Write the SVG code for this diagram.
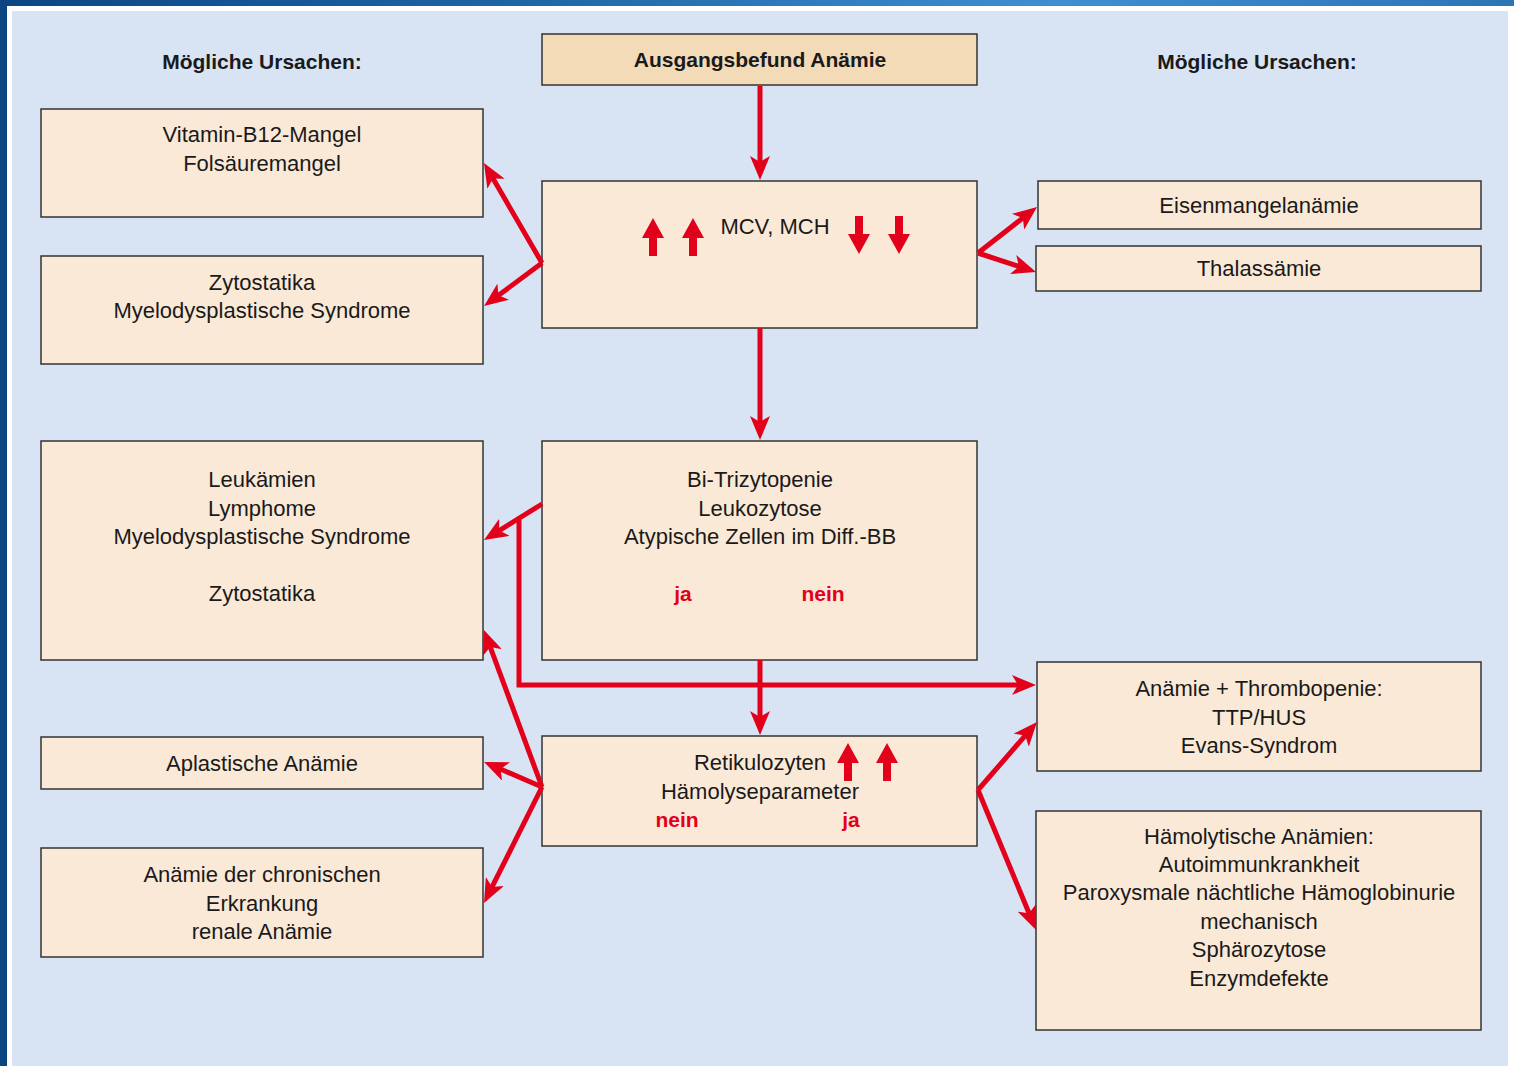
<svg xmlns="http://www.w3.org/2000/svg" width="1514" height="1066" viewBox="0 0 1514 1066">
<defs>
<linearGradient id="topbar" x1="0" y1="0" x2="1" y2="0">
<stop offset="0" stop-color="#0b4683"/>
<stop offset="0.35" stop-color="#1f66a6"/>
<stop offset="0.7" stop-color="#3f8fd0"/>
<stop offset="1" stop-color="#2d74b5"/>
</linearGradient>
<marker id="ah" viewBox="0 0 24 20" refX="8" refY="10" markerWidth="24" markerHeight="20" markerUnits="userSpaceOnUse" orient="auto">
<path d="M0,0 L24,10 L0,20 L6,10 z" fill="#e2001a"/>
</marker>
<path id="up" d="M-4,0 h8 v-18 h7 l-11,-20 l-11,20 h7 z"/>
<style>
.box{fill:#fae9d7;stroke:#333;stroke-width:1.5}
.top{fill:#f4dbb8;stroke:#333;stroke-width:1.5}
.t{font-family:"Liberation Sans",Arial,sans-serif;font-size:22px;fill:#1a1a1a;text-anchor:middle}
.h{font-family:"Liberation Sans",Arial,sans-serif;font-size:21px;font-weight:bold;fill:#1a1a1a;text-anchor:middle}
.r{font-family:"Liberation Sans",Arial,sans-serif;font-size:21px;font-weight:bold;fill:#e2001a;text-anchor:middle}
.c{fill:none;stroke:#e2001a;stroke-width:5;marker-end:url(#ah)}
.sa{fill:#e2001a}
</style>
</defs>
<rect x="0" y="0" width="1514" height="1066" fill="#ffffff"/>
<rect x="0" y="0" width="1514" height="6" fill="url(#topbar)"/>
<rect x="0" y="0" width="7" height="1066" fill="#0b4683"/>
<rect x="12" y="11" width="1496" height="1055" fill="#d8e4f3"/>

<text class="h" x="262" y="69">Mögliche Ursachen:</text>
<text class="h" x="1257" y="69">Mögliche Ursachen:</text>

<g id="n-start"><rect class="top" x="542" y="34" width="435" height="51"/><text class="h" x="760" y="67">Ausgangsbefund Anämie</text></g>

<g id="n-mcv"><rect class="box" x="542" y="181" width="435" height="147"/>
<text class="t" x="775" y="234">MCV, MCH</text>
<use href="#up" class="sa" x="653" y="256"/>
<use href="#up" class="sa" x="693" y="256"/>
<use href="#up" class="sa" transform="translate(859,216) scale(1,-1)"/>
<use href="#up" class="sa" transform="translate(899,216) scale(1,-1)"/>
</g>

<g id="n-vit"><rect class="box" x="41" y="109" width="442" height="108"/><text class="t" x="262" y="142">Vitamin-B12-Mangel</text><text class="t" x="262" y="171">Folsäuremangel</text></g>
<g id="n-zyto"><rect class="box" x="41" y="256" width="442" height="108"/><text class="t" x="262" y="290">Zytostatika</text><text class="t" x="262" y="318">Myelodysplastische Syndrome</text></g>
<g id="n-eisen"><rect class="box" x="1038" y="181" width="443" height="48"/><text class="t" x="1259" y="213">Eisenmangelanämie</text></g>
<g id="n-thal"><rect class="box" x="1036" y="246" width="445" height="45"/><text class="t" x="1259" y="276">Thalassämie</text></g>

<g id="n-leuk"><rect class="box" x="41" y="441" width="442" height="219"/>
<text class="t" x="262" y="487">Leukämien</text><text class="t" x="262" y="516">Lymphome</text><text class="t" x="262" y="544">Myelodysplastische Syndrome</text><text class="t" x="262" y="601">Zytostatika</text></g>

<g id="n-bi"><rect class="box" x="542" y="441" width="435" height="219"/>
<text class="t" x="760" y="487">Bi-Trizytopenie</text><text class="t" x="760" y="516">Leukozytose</text><text class="t" x="760" y="544">Atypische Zellen im Diff.-BB</text>
<text class="r" x="683" y="601">ja</text><text class="r" x="823" y="601">nein</text></g>

<g id="n-thromb"><rect class="box" x="1037" y="662" width="444" height="109"/>
<text class="t" x="1259" y="696">Anämie + Thrombopenie:</text><text class="t" x="1259" y="725">TTP/HUS</text><text class="t" x="1259" y="753">Evans-Syndrom</text></g>

<g id="n-aplast"><rect class="box" x="41" y="737" width="442" height="52"/><text class="t" x="262" y="771">Aplastische Anämie</text></g>

<g id="n-retik"><rect class="box" x="542" y="736" width="435" height="110"/>
<text class="t" x="760" y="770">Retikulozyten</text>
<use href="#up" class="sa" x="848" y="781"/>
<use href="#up" class="sa" x="887" y="781"/>
<text class="t" x="760" y="799">Hämolyseparameter</text>
<text class="r" x="677" y="827">nein</text><text class="r" x="851" y="827">ja</text></g>

<g id="n-chron"><rect class="box" x="41" y="848" width="442" height="109"/>
<text class="t" x="262" y="882">Anämie der chronischen</text><text class="t" x="262" y="911">Erkrankung</text><text class="t" x="262" y="939">renale Anämie</text></g>

<g id="n-haemo"><rect class="box" x="1036" y="811" width="445" height="219"/>
<text class="t" x="1259" y="844">Hämolytische Anämien:</text><text class="t" x="1259" y="872">Autoimmunkrankheit</text><text class="t" x="1259" y="900">Paroxysmale nächtliche Hämoglobinurie</text><text class="t" x="1259" y="929">mechanisch</text><text class="t" x="1259" y="957">Sphärozytose</text><text class="t" x="1259" y="986">Enzymdefekte</text></g>

<g id="connectors">
<path class="c" d="M760,86 L760,164"/>
<path class="c" d="M542,263 L492,176.8"/>
<path class="c" d="M542,263 L496.9,296.5"/>
<path class="c" d="M978,253 L1024.4,216.8"/>
<path class="c" d="M978,253 L1020.8,267"/>
<path class="c" d="M760,328 L760,424"/>
<path class="c" d="M542,504 L497.6,531.6"/>
<path class="c" d="M519,520 L519,685 L1020,685"/>
<path class="c" d="M760,660 L760,719"/>
<path class="c" d="M542,787 L489.5,645"/>
<path class="c" d="M542,787 L498.7,768.3"/>
<path class="c" d="M542,787 L491.2,888.7"/>
<path class="c" d="M978,790 L1026.5,734.1"/>
<path class="c" d="M978,790 L1029.9,915.2"/>
</g>
</svg>
